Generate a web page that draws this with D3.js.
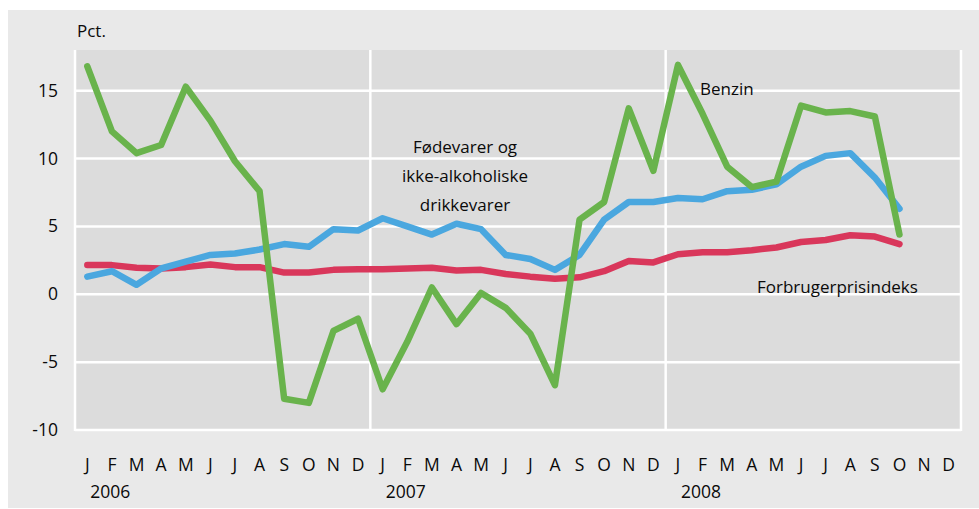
<!DOCTYPE html>
<html>
<head>
<meta charset="utf-8">
<script src="https://cdn.jsdelivr.net/npm/d3@7"></script>
<style>
  body { margin: 0; background: #fff; }
  text { font-family: "Open Sans", "Noto Sans", sans-serif; fill: #0a0a0a; }
</style>
</head>
<body>
<div id="chart"></div>
<script>
const width = 979;
const height = 509;

// month labels, three years
const monthLetters = ["J", "F", "M", "A", "M", "J", "J", "A", "S", "O", "N", "D"];
const years = ["2006", "2007", "2008"];
const yTicks = [-10, -5, 0, 5, 10, 15];

// Benzin
const benzin = [16.8, 12.0, 10.4, 11.0, 15.3, 12.8, 9.8, 7.6, -7.7, -8.0, -2.7, -1.8,
  -7.0, -3.5, 0.5, -2.2, 0.1, -1.0, -2.9, -6.7, 5.5, 6.8, 13.7, 9.1,
  16.9, 13.3, 9.4, 7.9, 8.3, 13.9, 13.4, 13.5, 13.1, 4.4];
// Fødevarer og ikke-alkoholiske drikkevarer
const foedevarer = [1.3, 1.7, 0.7, 1.9, 2.4, 2.9, 3.0, 3.3, 3.7, 3.5, 4.8, 4.7,
  5.6, 5.0, 4.4, 5.2, 4.8, 2.9, 2.6, 1.8, 2.9, 5.5, 6.8, 6.8,
  7.1, 7.0, 7.6, 7.7, 8.1, 9.4, 10.2, 10.4, 8.6, 6.3];
// Forbrugerprisindeks
const cpi = [2.15, 2.15, 1.95, 1.9, 2.0, 2.2, 2.0, 2.0, 1.6, 1.6, 1.8, 1.85,
  1.85, 1.9, 1.95, 1.75, 1.8, 1.5, 1.3, 1.15, 1.25, 1.7, 2.45, 2.35,
  2.95, 3.1, 3.1, 3.25, 3.45, 3.85, 4.0, 4.35, 4.25, 3.7];

const svg = d3.select("#chart")
  .append("svg")
  .attr("width", width)
  .attr("height", height);

// outer panel
svg.append("rect")
  .attr("x", 8).attr("y", 10)
  .attr("width", width - 8).attr("height", 498)
  .attr("fill", "#e9e9e9");

const plot = { left: 75, right: 961, top: 50, bottom: 430 };

const x = d3.scaleLinear().domain([-0.5, 35.5]).range([plot.left, plot.right]);
const y = d3.scaleLinear().domain([-10, 18]).range([plot.bottom, plot.top]);

// plot area
svg.append("rect")
  .attr("x", plot.left).attr("y", plot.top)
  .attr("width", plot.right - plot.left).attr("height", plot.bottom - plot.top)
  .attr("fill", "#dcdcdc");

// horizontal grid
svg.append("g")
  .selectAll("line")
  .data(yTicks)
  .join("line")
  .attr("x1", plot.left).attr("x2", plot.right)
  .attr("y1", d => y(d)).attr("y2", d => y(d))
  .attr("stroke", "#fff").attr("stroke-width", 2.5);

// year separators and borders
svg.append("g")
  .selectAll("line")
  .data([-0.5, 11.5, 23.5, 35.5])
  .join("line")
  .attr("x1", d => x(d)).attr("x2", d => x(d))
  .attr("y1", plot.top).attr("y2", plot.bottom + 1)
  .attr("stroke", "#fff").attr("stroke-width", 2.5);

// y tick labels
svg.append("g")
  .selectAll("text")
  .data(yTicks)
  .join("text")
  .attr("x", 58)
  .attr("y", d => y(d) + 6)
  .attr("text-anchor", "end")
  .attr("font-size", "17.5px")
  .text(d => d);

svg.append("text")
  .attr("x", 77).attr("y", 37)
  .attr("font-size", "17px")
  .text("Pct.");

// month labels
const months = d3.range(36);
svg.append("g")
  .selectAll("text")
  .data(months)
  .join("text")
  .attr("x", d => x(d))
  .attr("y", 471)
  .attr("text-anchor", "middle")
  .attr("font-size", "17.5px")
  .text(d => monthLetters[d % 12]);

svg.append("g")
  .selectAll("text")
  .data(years)
  .join("text")
  .attr("x", (d, i) => x(i * 12) + 3)
  .attr("y", 498)
  .attr("font-size", "17.5px")
  .text(d => d);

// lines
const line = d3.line()
  .x((d, i) => x(i))
  .y(d => y(d));

const series = [
  { values: cpi, color: "#d9375b" },
  { values: foedevarer, color: "#4aa7df" },
  { values: benzin, color: "#69b34c" }
];

svg.append("g")
  .selectAll("path")
  .data(series)
  .join("path")
  .attr("d", d => line(d.values))
  .attr("fill", "none")
  .attr("stroke", d => d.color)
  .attr("stroke-width", 6.5)
  .attr("stroke-linejoin", "round")
  .attr("stroke-linecap", "round");

// labels
svg.append("text")
  .attr("x", 700).attr("y", 95)
  .attr("font-size", "17px")
  .text("Benzin");

svg.append("text")
  .attr("x", 465)
  .attr("text-anchor", "middle")
  .attr("font-size", "17px")
  .selectAll("tspan")
  .data(["Fødevarer og", "ikke-alkoholiske", "drikkevarer"])
  .join("tspan")
  .attr("x", 465)
  .attr("y", (d, i) => 153 + i * 29)
  .text(d => d);

svg.append("text")
  .attr("x", 757).attr("y", 293)
  .attr("font-size", "17px")
  .text("Forbrugerprisindeks");
</script>
</body>
</html>
